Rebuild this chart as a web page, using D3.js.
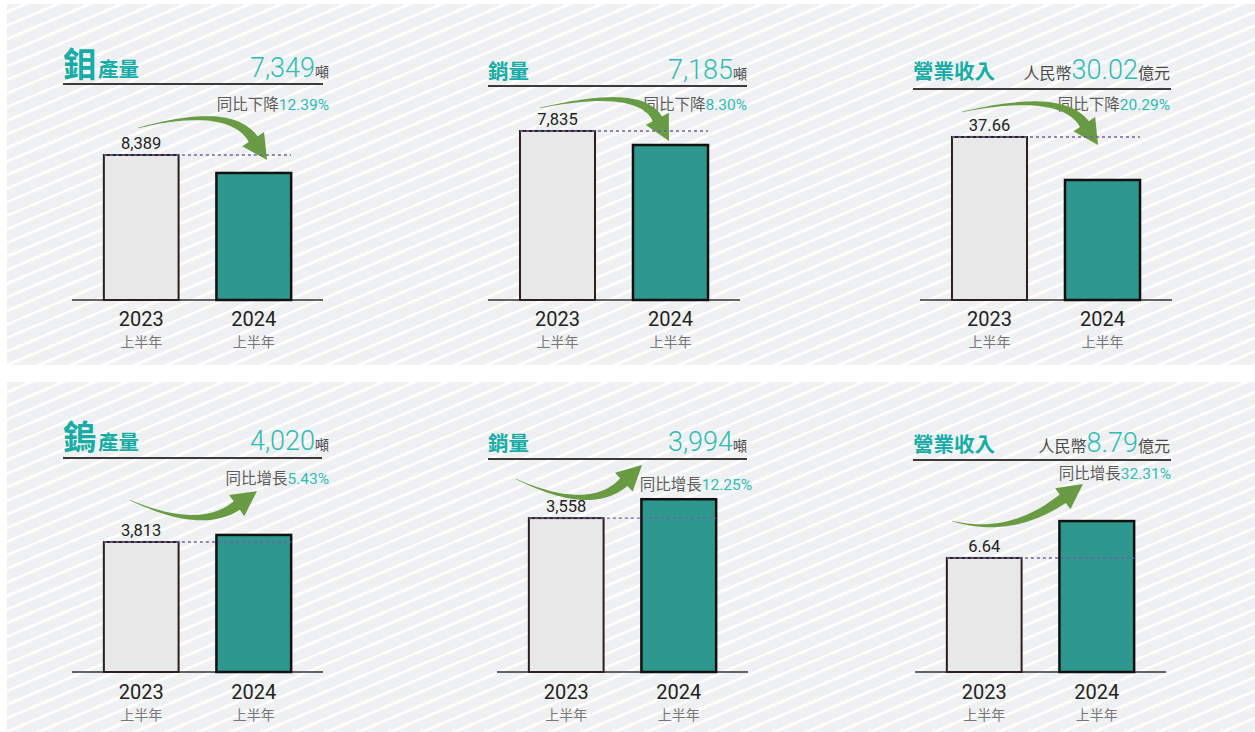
<!DOCTYPE html>
<html><head><meta charset="utf-8">
<script src="https://cdn.jsdelivr.net/npm/d3@7/dist/d3.min.js"></script>
<style>
html,body{margin:0;padding:0;background:#fff;}
svg{display:block;}
</style></head>
<body>
<svg id="chart" width="1255" height="732"></svg>
<script>
// ---------------- DATA ----------------
const titleBig   = ["鉬", "", "", "鎢", "", ""];
const titleRest  = ["產量", "銷量", "營業收入", "產量", "銷量", "營業收入"];
const valuePrefix = ["", "", "人民幣", "", "", "人民幣"];
const valueUnit  = ["噸", "噸", "億元", "噸", "噸", "億元"];
const changeLabel = ["同比下降", "同比下降", "同比下降", "同比增長", "同比增長", "同比增長"];
const changePct  = ["12.39%", "8.30%", "20.29%", "5.43%", "12.25%", "32.31%"];
const years = ["2023", "2024"];
const periodLabel = "上半年";
const values2023 = [8389, 7835, 37.66, 3813, 3558, 6.64];
const values2024 = [7349, 7185, 30.02, 4020, 3994, 8.79];
const yMin = [0, 0, 8.7, 0, 0, 0];
const yMax = [9835, 7880, 38.9, 4986, 3930, 9.9];

// ---------------- LAYOUT ----------------
const layout = [
  {hx0:63,  hx1:323,  hy:77,  uy:84,  vx:329,  px:329,  py:110, ax0:72,  ax1:323,  base:300,
   arrow:{t:[138,128], c:[230,104], p:[267,160]}},
  {hx0:488, hx1:747,  hy:79,  uy:86,  vx:747,  px:747,  py:110, ax0:488, ax1:740,  base:300,
   arrow:{t:[540,108], c:[640,86],  p:[669,141]}},
  {hx0:913, hx1:1171, hy:79,  uy:89,  vx:1170, px:1170, py:110, ax0:920, ax1:1172, base:300,
   arrow:{t:[962,112], c:[1062,90], p:[1098,145]}},
  {hx0:63,  hx1:322,  hy:450, uy:458, vx:329,  px:329,  py:484, ax0:72,  ax1:323,  base:672,
   arrow:{t:[130,500], c:[200,532], p:[257,491]}},
  {hx0:488, hx1:747,  hy:451, uy:459, vx:747,  px:752,  py:490, ax0:497, ax1:748,  base:672,
   arrow:{t:[516,479], c:[590,514], p:[642,465]}},
  {hx0:913, hx1:1171, hy:452, uy:460, vx:1170, px:1171, py:479, ax0:915, ax1:1166, base:672,
   arrow:{t:[952,521], c:[1010,537], p:[1083,484]}}
];

const TEAL = "#17aca6", TEAL_L = "#2fbab5", GREEN = "#699b44";
const CJK = "'Noto Sans CJK TC','Noto Sans CJK SC',sans-serif";
const NUM = "Roboto,'Liberation Sans',sans-serif";
const fmt = d3.format(",");

const svg = d3.select("#chart");
const defs = svg.append("defs");
const pat = defs.append("pattern").attr("id","stripes")
  .attr("patternUnits","userSpaceOnUse").attr("width",12).attr("height",12.5)
  .attr("patternTransform","rotate(-23)");
pat.append("rect").attr("width",12).attr("height",12.5).attr("fill","#eff0f2");
pat.append("rect").attr("y",0).attr("width",12).attr("height",2.6).attr("fill","#ffffff");

svg.append("rect").attr("x",7).attr("y",4).attr("width",1248).attr("height",361).attr("fill","url(#stripes)");
svg.append("rect").attr("x",7).attr("y",382).attr("width",1248).attr("height",350).attr("fill","url(#stripes)");

function arrowPath(P0, C, T, bodyW, headL, headW){
  let dx = T[0]-C[0], dy = T[1]-C[1];
  const len = Math.hypot(dx,dy); dx/=len; dy/=len;
  const B = [T[0]-dx*headL, T[1]-dy*headL];
  const n = 40, L = [], R = [];
  for (let i=0;i<=n;i++){
    const t = i/n, u = 1-t;
    const x = u*u*P0[0] + 2*u*t*C[0] + t*t*B[0];
    const y = u*u*P0[1] + 2*u*t*C[1] + t*t*B[1];
    let tx = 2*u*(C[0]-P0[0]) + 2*t*(B[0]-C[0]);
    let ty = 2*u*(C[1]-P0[1]) + 2*t*(B[1]-C[1]);
    const tl = Math.hypot(tx,ty); tx/=tl; ty/=tl;
    const w = (0.6 + (bodyW-0.6)*Math.pow(t,1.2))/2;
    L.push([x - ty*w, y + tx*w]);
    R.push([x + ty*w, y - tx*w]);
  }
  const nx = -dy, ny = dx;
  const pts = L.concat([[B[0]+nx*headW, B[1]+ny*headW], T, [B[0]-nx*headW, B[1]-ny*headW]], R.reverse());
  return "M" + pts.map(p => p[0].toFixed(2)+","+p[1].toFixed(2)).join("L") + "Z";
}

layout.forEach((lo, i) => {
  const g = svg.append("g");
  const x = d3.scaleBand().domain(years).range([lo.ax0, lo.ax1]).paddingInner(0.336).paddingOuter(0.283);
  const top = lo.base - 170;
  const y = d3.scaleLinear().domain([yMin[i], yMax[i]]).range([lo.base, top]);
  const vals = [values2023[i], values2024[i]];

  // header
  const t = g.append("text").attr("x", lo.hx0).attr("y", lo.hy).attr("fill", TEAL)
    .attr("font-family", CJK).attr("font-weight", 700);
  if (titleBig[i]) t.append("tspan").attr("font-size", 34).text(titleBig[i]);
  t.append("tspan").attr("font-size", 20.5).attr("dx", titleBig[i] ? 1 : 0).text(titleRest[i]);

  const v = g.append("text").attr("x", lo.vx).attr("y", lo.hy).attr("text-anchor","end");
  if (valuePrefix[i]) v.append("tspan").attr("font-family", CJK).attr("font-size", 16).attr("fill","#4a4a4a").text(valuePrefix[i]);
  v.append("tspan").attr("font-family", NUM).attr("font-weight",300).attr("font-size", 27).attr("fill", TEAL_L).text(fmt(values2024[i]));
  v.append("tspan").attr("font-family", CJK).attr("font-size", valuePrefix[i] ? 16 : 14).attr("fill","#4a4a4a").text(valueUnit[i]);

  g.append("line").attr("x1", lo.hx0).attr("x2", lo.hx1).attr("y1", lo.uy).attr("y2", lo.uy)
    .attr("stroke","#3d3a3a").attr("stroke-width",2);

  const c = g.append("text").attr("x", lo.px).attr("y", lo.py).attr("text-anchor","end").attr("font-size",15.5);
  c.append("tspan").attr("font-family", CJK).attr("fill","#5c5c5c").text(changeLabel[i]);
  c.append("tspan").attr("font-family", NUM).attr("fill", TEAL_L).text(changePct[i]);

  // arrow
  g.append("path").attr("d", arrowPath(lo.arrow.t, lo.arrow.c, lo.arrow.p, 10.5, 25, 13)).attr("fill", GREEN);

  // axis baseline
  g.append("line").attr("x1", lo.ax0).attr("x2", lo.ax1).attr("y1", lo.base).attr("y2", lo.base)
    .attr("stroke","#333").attr("stroke-width",1.5);

  // bars
  g.selectAll("rect.bar").data(vals).join("rect").attr("class","bar")
    .attr("x", (d,j) => x(years[j])).attr("width", x.bandwidth())
    .attr("y", d => y(d)).attr("height", d => lo.base - y(d))
    .attr("fill", (d,j) => j === 0 ? "#e8e8e8" : "#2e978e")
    .attr("stroke", (d,j) => j === 0 ? "#2a2020" : "#111")
    .attr("stroke-width", (d,j) => j === 0 ? 2 : 2.5);

  // dotted reference line
  g.append("line").attr("x1", x(years[0])).attr("x2", x(years[1]) + x.bandwidth())
    .attr("y1", y(vals[0])).attr("y2", y(vals[0]))
    .attr("stroke","#6e62a3").attr("stroke-width",1.4).attr("stroke-dasharray","3,3");

  // value label on 2023 bar
  g.append("text").attr("x", x(years[0]) + x.bandwidth()/2).attr("y", y(vals[0]) - 6)
    .attr("text-anchor","middle").attr("font-family", NUM).attr("font-size",16.5).attr("fill","#222")
    .text(fmt(vals[0]));

  // x labels
  const off = lo.base > 400 ? [27, 48] : [26, 46.5];
  years.forEach(yr => {
    const cx = x(yr) + x.bandwidth()/2;
    g.append("text").attr("x", cx).attr("y", lo.base + off[0]).attr("text-anchor","middle")
      .attr("font-family", NUM).attr("font-size",20).attr("fill","#222").text(yr);
    g.append("text").attr("x", cx).attr("y", lo.base + off[1]).attr("text-anchor","middle")
      .attr("font-family", CJK).attr("font-size",14).attr("fill","#777").text(periodLabel);
  });
});
</script>
</body></html>
